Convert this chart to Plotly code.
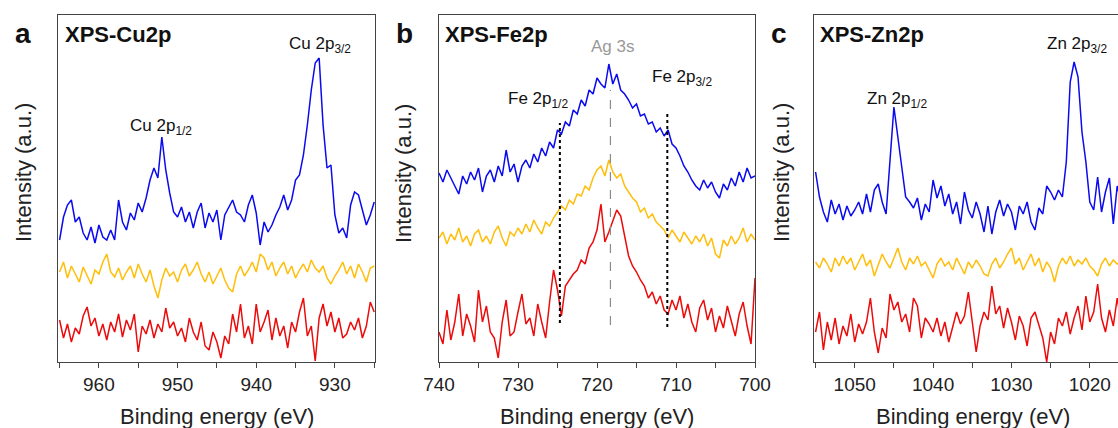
import plotly.graph_objects as go

# ---------------- data (binding energy grid, intensities in a.u.) ----------------
cu_be = [965 - 0.5 * i for i in range(81)]
fe_be = [740 - 0.5 * i for i in range(81)]
zn_be = [1055 - 0.5 * i for i in range(81)]

cu_blue = [122,145,157,162,140,145,129,122,135,119,
           137,125,122,132,122,162,140,132,149,142,
           159,150,164,182,194,184,225,192,169,150,
           145,155,140,150,134,150,159,134,149,140,
           152,122,147,155,162,150,147,140,157,167,
           149,117,140,130,137,147,155,167,152,162,
           182,187,207,237,272,299,304,237,194,197,
           147,129,134,124,157,170,167,152,137,147,
           160]
cu_yellow = [90,100,84,96,88,80,95,86,78,92,
             88,100,108,90,85,94,82,90,96,84,
             98,88,80,92,76,64,82,94,86,90,
             80,92,98,86,92,100,88,80,90,78,
             86,94,82,74,70,88,96,86,92,100,
             90,108,104,92,100,86,94,100,88,96,
             84,92,98,90,102,94,90,96,84,78,
             86,92,100,88,96,84,98,90,80,94,
             96]
cu_red = [42,24,38,20,34,28,46,55,36,44,
          26,38,22,40,30,48,25,42,32,48,
          10,36,28,42,24,38,30,54,34,40,
          26,34,20,44,30,22,40,16,12,30,
          20,4,26,18,48,30,58,24,36,18,
          58,30,40,52,22,44,26,36,14,40,
          30,50,64,26,36,1,44,58,36,50,
          30,44,24,28,40,32,44,24,36,60,
          50]

fe_blue = [189,180,192,184,176,168,186,178,190,182,
           194,170,186,192,180,196,186,212,190,198,
           180,196,202,194,208,200,214,206,220,214,
           232,228,240,236,252,248,262,256,272,268,
           284,278,274,298,278,288,272,268,262,254,
           258,246,248,238,240,230,234,226,232,218,
           214,206,196,190,182,176,172,182,174,180,
           170,164,178,172,184,176,190,180,194,184,
           186]
fe_yellow = [124,130,118,128,122,134,120,126,116,128,
             132,120,126,118,130,136,124,116,130,126,
             134,128,138,130,142,134,128,140,136,144,
             150,156,152,162,158,168,166,176,172,184,
             192,196,186,202,190,184,188,176,170,164,
             160,150,154,144,148,140,136,132,124,132,
             126,120,130,124,118,126,120,128,116,124,
             108,104,122,116,126,118,124,134,120,128,
             122]
fe_red = [30,18,52,22,40,68,26,48,36,20,
          72,40,56,30,24,4,40,62,26,30,
          50,68,38,44,26,58,40,24,60,92,
          72,46,76,82,88,92,102,98,114,120,
          132,158,120,130,142,152,146,124,106,96,
          90,82,76,64,70,58,66,52,48,62,
          52,66,44,58,40,30,54,62,42,54,
          30,46,34,56,42,26,48,60,36,18,
          84]

zn_blue = [190,165,150,140,162,148,158,142,156,146,
           152,160,148,168,150,172,178,160,148,205,
           255,225,195,165,160,154,164,142,158,150,
           182,164,176,156,168,148,160,138,170,152,
           144,160,148,130,156,128,150,162,146,158,
           150,132,156,148,160,140,132,154,148,176,
           170,162,172,165,200,280,300,285,230,200,
           160,152,185,150,170,184,138,176,160,150,
           165]
zn_yellow = [100,94,104,98,90,104,96,106,98,104,
             92,100,108,96,102,86,96,108,100,94,
             104,114,100,92,104,98,106,96,100,92,
             84,98,104,96,100,92,104,96,88,100,
             94,102,96,88,86,98,104,94,100,108,
             114,98,104,92,100,108,96,104,90,100,
             94,80,96,104,98,106,96,102,98,104,
             96,92,86,98,104,96,102,98,100,96,
             100]
zn_red = [30,50,12,40,22,44,18,36,26,48,
          20,38,28,40,64,30,9,34,24,68,
          52,60,40,48,30,64,56,24,44,38,
          30,44,26,40,20,36,50,38,46,70,
          40,10,36,50,42,76,48,56,34,54,
          40,22,46,36,16,44,50,36,24,0,
          30,18,44,36,50,28,44,56,32,66,
          40,50,78,44,30,52,36,64,40,30,
          50]

# reference peak positions (eV) and marker line extents (a.u.)
fe_half_be, ag_be, fe_three_be = 724.7, 718.3, 711.1
fe_half_span, ag_span, fe_three_span = (39, 239), (37, 272), (35, 249)

cu_ticks = [960, 950, 940, 930]
fe_ticks = [740, 730, 720, 710, 700]
zn_ticks = [1050, 1040, 1030, 1020]

# ---------------- figure ----------------
W, H = 1118, 428
BLUE, YELLOW, RED = "#0a0af0", "#ffbe0a", "#ec0b0b"
FONT = "Liberation Sans, Arial, sans-serif"
AX = "#444444"

def px(x):
    return x / W

def py(y):
    return 1 - y / H

fig = go.Figure()
panels = [
    (cu_be, [cu_blue, cu_yellow, cu_red], "x", "y"),
    (fe_be, [fe_blue, fe_yellow, fe_red], "x2", "y2"),
    (zn_be, [zn_blue, zn_yellow, zn_red], "x3", "y3"),
]
for be, series, xa, ya in panels:
    for vals, col in zip(series, [BLUE, YELLOW, RED]):
        fig.add_trace(go.Scatter(x=be, y=vals, mode="lines", xaxis=xa, yaxis=ya,
                                 line=dict(color=col, width=1.5), showlegend=False,
                                 hoverinfo="skip"))

ydom = [py(362), py(15)]
common_x = dict(showline=True, linecolor=AX, linewidth=1.2, mirror=True,
                ticks="outside", ticklen=5, tickwidth=1.2, tickcolor=AX,
                showgrid=False, zeroline=False, automargin=False,
                tickfont=dict(family=FONT, size=19, color="#222222"),
                minor=dict(dtick=5, ticks="outside", ticklen=5, tickwidth=1.2,
                           tickcolor=AX, showgrid=False))
common_y = dict(showline=True, linecolor=AX, linewidth=1.2, ticks="",
                showticklabels=False, showgrid=False, zeroline=False,
                automargin=False, range=[0, 347], domain=ydom)

fig.update_layout(
    width=W, height=H, autosize=False, margin=dict(l=0, r=0, t=0, b=0, pad=0),
    paper_bgcolor="white", plot_bgcolor="white",
    xaxis=dict(common_x, domain=[px(58), px(375)], range=[965.2, 924.9],
               tickvals=cu_ticks, anchor="y"),
    yaxis=dict(common_y, mirror=True, anchor="x"),
    xaxis2=dict(common_x, domain=[px(439), px(755)], range=[740, 700],
                tickvals=fe_ticks, anchor="y2"),
    yaxis2=dict(common_y, mirror=True, anchor="x2"),
    xaxis3=dict(common_x, domain=[px(814), 1.0], range=[1055.2, 1016.4],
                tickvals=zn_ticks, anchor="y3"),
    yaxis3=dict(common_y, mirror=False, anchor="x3"),
)

# marker lines in panel b
for be, span, col, dash, wd in [(fe_half_be, fe_half_span, "black", "dot", 2),
                                (ag_be, ag_span, "#8a8a8a", "dash", 1.2),
                                (fe_three_be, fe_three_span, "black", "dot", 2)]:
    fig.add_shape(type="line", xref="x2", yref="y2", x0=be, x1=be, y0=span[0], y1=span[1],
                  line=dict(color=col, dash=dash, width=wd))

def ann(text, x, y, size, color="#111111", bold=False, xanchor="center", angle=0):
    t = f"<b>{text}</b>" if bold else text
    fig.add_annotation(text=t, x=px(x), y=py(y), xref="paper", yref="paper",
                       showarrow=False, xanchor=xanchor, yanchor="middle",
                       textangle=angle, font=dict(family=FONT, size=size, color=color))

# panel letters and titles
for letter, lx in [("a", 23), ("b", 404), ("c", 779)]:
    ann(letter, lx, 33, 28, bold=True)
for title, tx in [("XPS-Cu2p", 63), ("XPS-Fe2p", 443), ("XPS-Zn2p", 818)]:
    ann(title, tx, 35, 22, bold=True, xanchor="left")

# peak labels
ann("Cu 2p<sub>1/2</sub>", 161, 127, 17)
ann("Cu 2p<sub>3/2</sub>", 320, 45, 17)
ann("Ag 3s", 612, 47, 17, color="#999999")
ann("Fe 2p<sub>1/2</sub>", 538, 100, 17)
ann("Fe 2p<sub>3/2</sub>", 682, 78, 17)
ann("Zn 2p<sub>1/2</sub>", 897, 100, 17)
ann("Zn 2p<sub>3/2</sub>", 1077, 45, 17)

# axis titles
for cx in [216.5, 597, 972.5]:
    ann("Binding energy (eV)", cx, 416, 22, color="#222222")
for cx in [23, 403, 781]:
    ann("Intensity (a.u.)", cx, 173, 22, color="#222222", angle=-90)

fig.write_html("out.html", config={"responsive": False})
